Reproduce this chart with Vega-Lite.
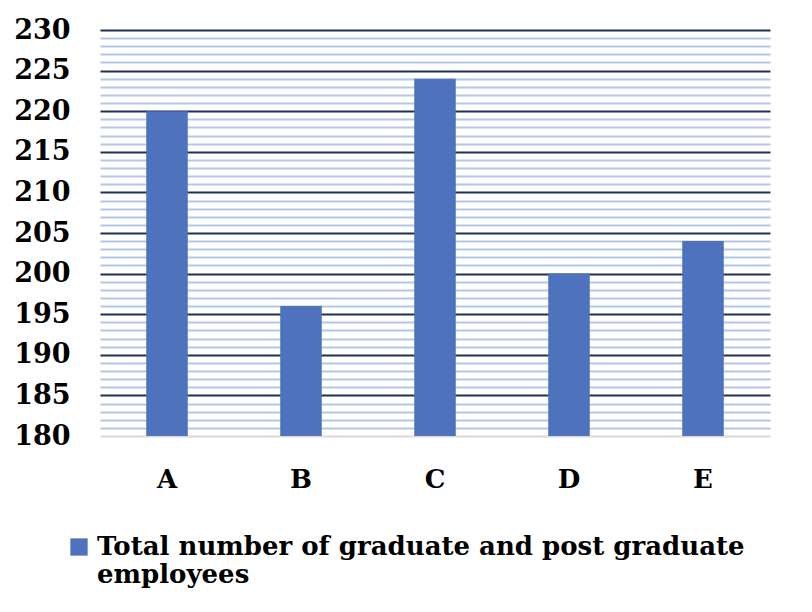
{
  "$schema": "https://vega.github.io/schema/vega-lite/v6.json",
  "width": 670,
  "height": 406,
  "autosize": {"type": "none"},
  "padding": {"left": 100, "top": 30, "right": 42, "bottom": 176},
  "background": "white",
  "config": {"view": {"stroke": null}, "font": "DejaVu Serif"},
  "data": {
    "values": [
      {"company": "A", "value": 220, "series": "Total number of graduate and post graduate employees"},
      {"company": "B", "value": 196, "series": "Total number of graduate and post graduate employees"},
      {"company": "C", "value": 224, "series": "Total number of graduate and post graduate employees"},
      {"company": "D", "value": 200, "series": "Total number of graduate and post graduate employees"},
      {"company": "E", "value": 204, "series": "Total number of graduate and post graduate employees"}
    ]
  },
  "mark": {"type": "bar", "clip": true},
  "encoding": {
    "x": {
      "field": "company",
      "type": "nominal",
      "scale": {"paddingInner": 0.69, "paddingOuter": 0.345},
      "axis": {
        "title": null,
        "labelAngle": 0,
        "ticks": false,
        "domain": false,
        "labelPadding": 30,
        "labelFont": "DejaVu Serif",
        "labelFontWeight": "bold",
        "labelFontSize": 26,
        "labelColor": "#000000"
      }
    },
    "y": {
      "field": "value",
      "type": "quantitative",
      "scale": {"domain": [180, 230], "zero": false, "nice": false},
      "axis": {
        "title": null,
        "values": [180,181,182,183,184,185,186,187,188,189,190,191,192,193,194,195,196,197,198,199,200,201,202,203,204,205,206,207,208,209,210,211,212,213,214,215,216,217,218,219,220,221,222,223,224,225,226,227,228,229,230],
        "labelExpr": "datum.value % 5 === 0 ? datum.label : ''",
        "ticks": false,
        "domain": false,
        "labelPadding": 30,
        "labelFont": "DejaVu Serif",
        "labelFontWeight": "bold",
        "labelFontSize": 27,
        "labelColor": "#000000",
        "grid": true,
        "gridColor": {"condition": [{"test": "datum.value === 180", "value": "#D9D9D9"}, {"test": "datum.value % 5 === 0", "value": "#1F2F55"}], "value": "#B4C7E7"},
        "gridWidth": 2,
        "gridOpacity": 1
      }
    },
    "y2": {"datum": 180},
    "color": {
      "field": "series",
      "type": "nominal",
      "scale": {"range": ["#4E72BE"]},
      "legend": {
        "title": null,
        "orient": "none",
        "legendX": -34,
        "legendY": 504,
        "symbolType": "square",
        "symbolSize": 300,
        "symbolStrokeWidth": 0,
        "labelFont": "DejaVu Serif",
        "labelFontWeight": "bold",
        "labelFontSize": 26,
        "labelLineHeight": 35,
        "labelColor": "#000000",
        "labelLimit": 0,
        "labelOffset": 5,
        "labelExpr": "['Total number of graduate and post graduate', 'employees']"
      }
    }
  }
}
